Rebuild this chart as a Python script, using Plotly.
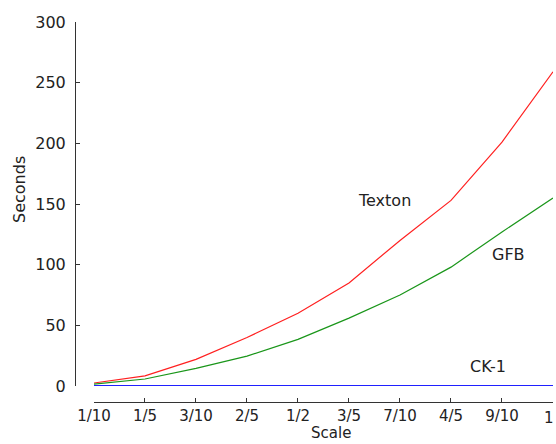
import plotly.graph_objects as go

scales = ["1/10", "1/5", "3/10", "2/5", "1/2", "3/5", "7/10", "4/5", "9/10", "1"]
texton = [2.5, 8.4, 22, 40, 60, 85, 120, 153, 201, 259]
gfb = [1.5, 5.8, 14.5, 24.7, 38.5, 56, 75, 98, 127, 155]
ck1 = [0.3, 0.3, 0.3, 0.3, 0.3, 0.3, 0.3, 0.3, 0.3, 0.3]
y_ticks = [0, 50, 100, 150, 200, 250, 300]

font = "DejaVu Sans, Verdana, sans-serif"
txtcol = "#222"
xpos = list(range(len(scales)))

fig = go.Figure()
fig.add_trace(go.Scatter(x=xpos, y=texton, mode="lines", name="Texton",
                         line=dict(color="#ff2020", width=1.2)))
fig.add_trace(go.Scatter(x=xpos, y=gfb, mode="lines", name="GFB",
                         line=dict(color="#1a961a", width=1.2)))
fig.add_trace(go.Scatter(x=xpos, y=ck1, mode="lines", name="CK-1",
                         line=dict(color="#2020ff", width=1.5)))

for txt, xi, yv in [("Texton", 5.69, 153), ("GFB", 8.12, 108.8), ("CK-1", 7.73, 15.7)]:
    fig.add_annotation(x=xi, y=yv, text=txt, showarrow=False,
                       xanchor="center", yanchor="middle",
                       font=dict(family=font, size=16, color=txtcol))

# axis titles as paper annotations (positioned like the reference)
fig.add_annotation(xref="paper", yref="paper", x=-0.115, y=0.558, text="Seconds",
                   textangle=-90, showarrow=False, xanchor="center", yanchor="middle",
                   font=dict(family=font, size=16, color=txtcol))
fig.add_annotation(xref="paper", yref="paper", x=0.536, y=-0.081, text="Scale",
                   showarrow=False, xanchor="center", yanchor="middle",
                   font=dict(family=font, size=15, color=txtcol))

# last tick label placed so that it stays inside the page edge
tick_text = scales[:-1] + [""]
fig.add_annotation(x=xpos[-1], xref="x", yref="paper", y=-0.041, text=scales[-1],
                   showarrow=False, xanchor="right", yanchor="middle", xshift=3,
                   font=dict(family=font, size=15, color=txtcol))

fig.update_layout(
    width=556, height=444,
    margin=dict(l=75, r=3, t=22, b=42, autoexpand=False),
    paper_bgcolor="white", plot_bgcolor="white",
    showlegend=False,
    font=dict(family=font, size=16, color=txtcol),
    xaxis=dict(domain=[0.0397, 1], anchor="free", position=0, range=[0, 9],
               automargin=False, ticklabeloverflow="allow",
               showline=True, linecolor="#333", linewidth=1, ticks="inside", ticklen=4,
               tickcolor="#333", showgrid=False, zeroline=False,
               tickfont=dict(size=15),
               tickmode="array", tickvals=xpos, ticktext=tick_text),
    yaxis=dict(domain=[0.042, 1], anchor="free", position=0, range=[0, 300],
               automargin=False, ticklabeloverflow="allow",
               showline=True, linecolor="#333", linewidth=1, ticks="inside", ticklen=4,
               tickcolor="#333", showgrid=False, zeroline=False,
               tickvals=y_ticks, ticklabelstandoff=6),
)
fig.write_html("out.html", config={"displayModeBar": False},
               post_script="document.body.style.margin='0';")
